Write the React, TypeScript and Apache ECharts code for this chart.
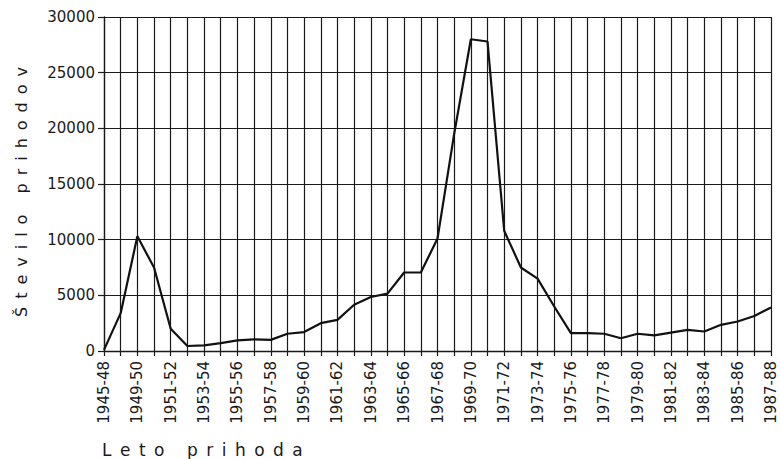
import React, { useEffect, useRef } from "react";
import * as echarts from "echarts";

const categories: string[] = [
  "1945-48", "1948-49", "1949-50", "1950-51", "1951-52", "1952-53", "1953-54",
  "1954-55", "1955-56", "1956-57", "1957-58", "1958-59", "1959-60", "1960-61",
  "1961-62", "1962-63", "1963-64", "1964-65", "1965-66", "1966-67", "1967-68",
  "1968-69", "1969-70", "1970-71", "1971-72", "1972-73", "1973-74", "1974-75",
  "1975-76", "1976-77", "1977-78", "1978-79", "1979-80", "1980-81", "1981-82",
  "1982-83", "1983-84", "1984-85", "1985-86", "1986-87", "1987-88",
];

const arrivals: number[] = [
  100, 3400, 10300, 7500, 2000, 450, 500,
  700, 950, 1050, 1000, 1550, 1700, 2500,
  2800, 4150, 4850, 5150, 7050, 7050, 10100,
  19500, 28000, 27800, 10800, 7500, 6500, 4000,
  1600, 1600, 1550, 1150, 1550, 1400, 1650,
  1900, 1750, 2350, 2650, 3150, 3900,
];

const yTicks: number[] = [0, 5000, 10000, 15000, 20000, 25000, 30000];

const yAxisTitle = "Število prihodov";
const xAxisTitle = "Leto prihoda";

const spaced = (s: string) => s.split("").join("\u2002");

const INK = "#1a1a1a";
const FONT = "DejaVu Sans";

export default function App() {
  const ref = useRef<HTMLDivElement>(null);

  useEffect(() => {
    if (!ref.current) return;
    const chart = echarts.init(ref.current, null, { renderer: "svg" });
    chart.setOption({
      animation: false,
      backgroundColor: "#ffffff",
      grid: { left: 104, top: 17, right: 9, bottom: 108, containLabel: false },
      xAxis: {
        type: "category",
        data: categories,
        boundaryGap: false,
        axisLine: { show: true, lineStyle: { color: INK, width: 1.3 } },
        axisTick: { show: true, interval: 0, length: 5, lineStyle: { color: INK, width: 1.2 } },
        axisLabel: {
          interval: 1,
          rotate: 90,
          margin: 10,
          color: INK,
          fontFamily: FONT,
          fontSize: 15,
        },
        splitLine: { show: true, interval: 0, lineStyle: { color: INK, width: 1.2 } },
      },
      yAxis: {
        type: "value",
        min: yTicks[0],
        max: yTicks[yTicks.length - 1],
        interval: yTicks[1] - yTicks[0],
        axisLine: { show: true, lineStyle: { color: INK, width: 1.3 } },
        axisTick: { show: true, length: 6, lineStyle: { color: INK, width: 1.2 } },
        axisLabel: {
          margin: 9,
          color: INK,
          fontFamily: FONT,
          fontSize: 15,
          formatter: (v: number) => String(v),
        },
        splitLine: { show: true, lineStyle: { color: INK, width: 1.2 } },
      },
      series: [
        {
          type: "line",
          data: arrivals,
          symbol: "none",
          lineStyle: { color: "#111111", width: 2.2 },
        },
      ],
      graphic: [
        {
          type: "text",
          x: 21,
          y: 192,
          rotation: Math.PI / 2,
          style: {
            text: spaced(yAxisTitle),
            fill: INK,
            font: `16px "${FONT}"`,
            textAlign: "center",
            textVerticalAlign: "middle",
          },
        },
        {
          type: "text",
          x: 102,
          y: 450,
          style: {
            text: spaced(xAxisTitle),
            fill: INK,
            font: `17px "${FONT}"`,
            textAlign: "left",
            textVerticalAlign: "middle",
          },
        },
      ],
    });
    return () => chart.dispose();
  }, []);

  return (
    <div
      ref={ref}
      style={{ position: "fixed", left: 0, top: 0, width: 780, height: 459, background: "#fff" }}
    />
  );
}
